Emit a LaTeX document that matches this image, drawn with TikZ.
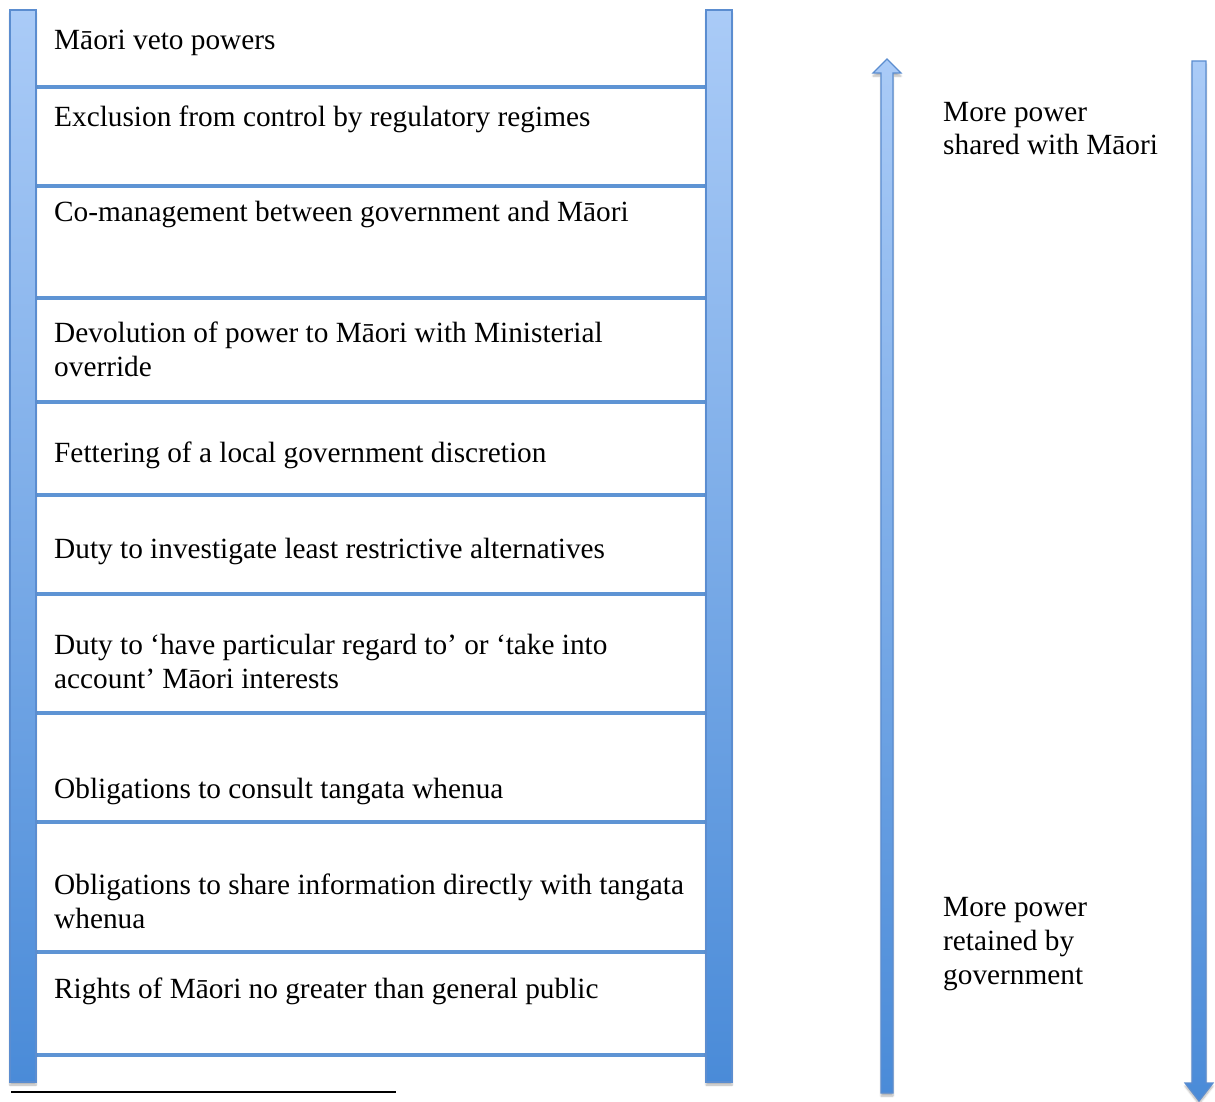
\documentclass[tikz,border=0pt]{standalone}
\usepackage{fontspec}
\setmainfont{Liberation Serif}
\usetikzlibrary{shadows.blur}
\definecolor{railtop}{HTML}{AACBF7}
\definecolor{railbot}{HTML}{4A8BD8}
\definecolor{railedge}{HTML}{5B8DD0}
\definecolor{rungcol}{HTML}{5E94D4}
\begin{document}
\begin{tikzpicture}[x=1pt,y=-1pt,
  rail/.style={top color=railtop, bottom color=railbot, draw=railedge, line width=1.2pt,
    blur shadow={shadow xshift=0pt, shadow yshift=-3pt, shadow blur steps=6, shadow opacity=30}},
  rung/.style={draw=rungcol, line width=4pt},
  label/.style={anchor=base west, inner sep=0pt, font=\fontsize{29.3}{33.7}\selectfont, align=left},
  side/.style={label}]
\useasboundingbox (0,0) rectangle (1215,1102);

% rungs of the ladder
\foreach \y in {87,186,298,402,495,594,713,822,952,1055}
  \draw[rung] (36,\y) -- (706,\y);

% the two rails
\path[rail] (10,10) rectangle (36,1082);
\path[rail] (706,10) rectangle (732,1082);

% steps, from most to least power shared (anchored at the last line's baseline)
\node[label] (s1) at (54,50) {Māori veto powers};
\node[label] (s2) at (54,127) {Exclusion from control by regulatory regimes};
\node[label] (s3) at (54,222) {Co-management between government and Māori};
\node[label] (s4) at (54,376) {Devolution of power to Māori with Ministerial\\override};
\node[label] (s5) at (54,462) {Fettering of a local government discretion};
\node[label] (s6) at (54,558) {Duty to investigate least restrictive alternatives};
\node[label] (s7) at (54,688) {Duty to ‘have particular regard to’ or ‘take into\\account’ Māori interests};
\node[label] (s8) at (54,798) {Obligations to consult tangata whenua};
\node[label] (s9) at (54,928) {Obligations to share information directly with tangata\\whenua};
\node[label] (s10) at (54,998) {Rights of Māori no greater than general public};

% upward arrow
\path[rail] (881,1093) -- (881,73) -- (873,73) -- (887,59) -- (901,73) -- (893,73) -- (893,1093) -- cycle;
% downward arrow
\path[rail] (1192,61) -- (1206,61) -- (1206,1083) -- (1213,1083) -- (1199,1101) -- (1185,1083) -- (1192,1083) -- cycle;

\node[side] (up) at (943,155) {More power\\shared with Māori};
\node[side] (down) at (943,984) {More power\\retained by\\government};

% footnote separator
\draw[line width=2pt] (11,1092) -- (396,1092);
\end{tikzpicture}
\end{document}
